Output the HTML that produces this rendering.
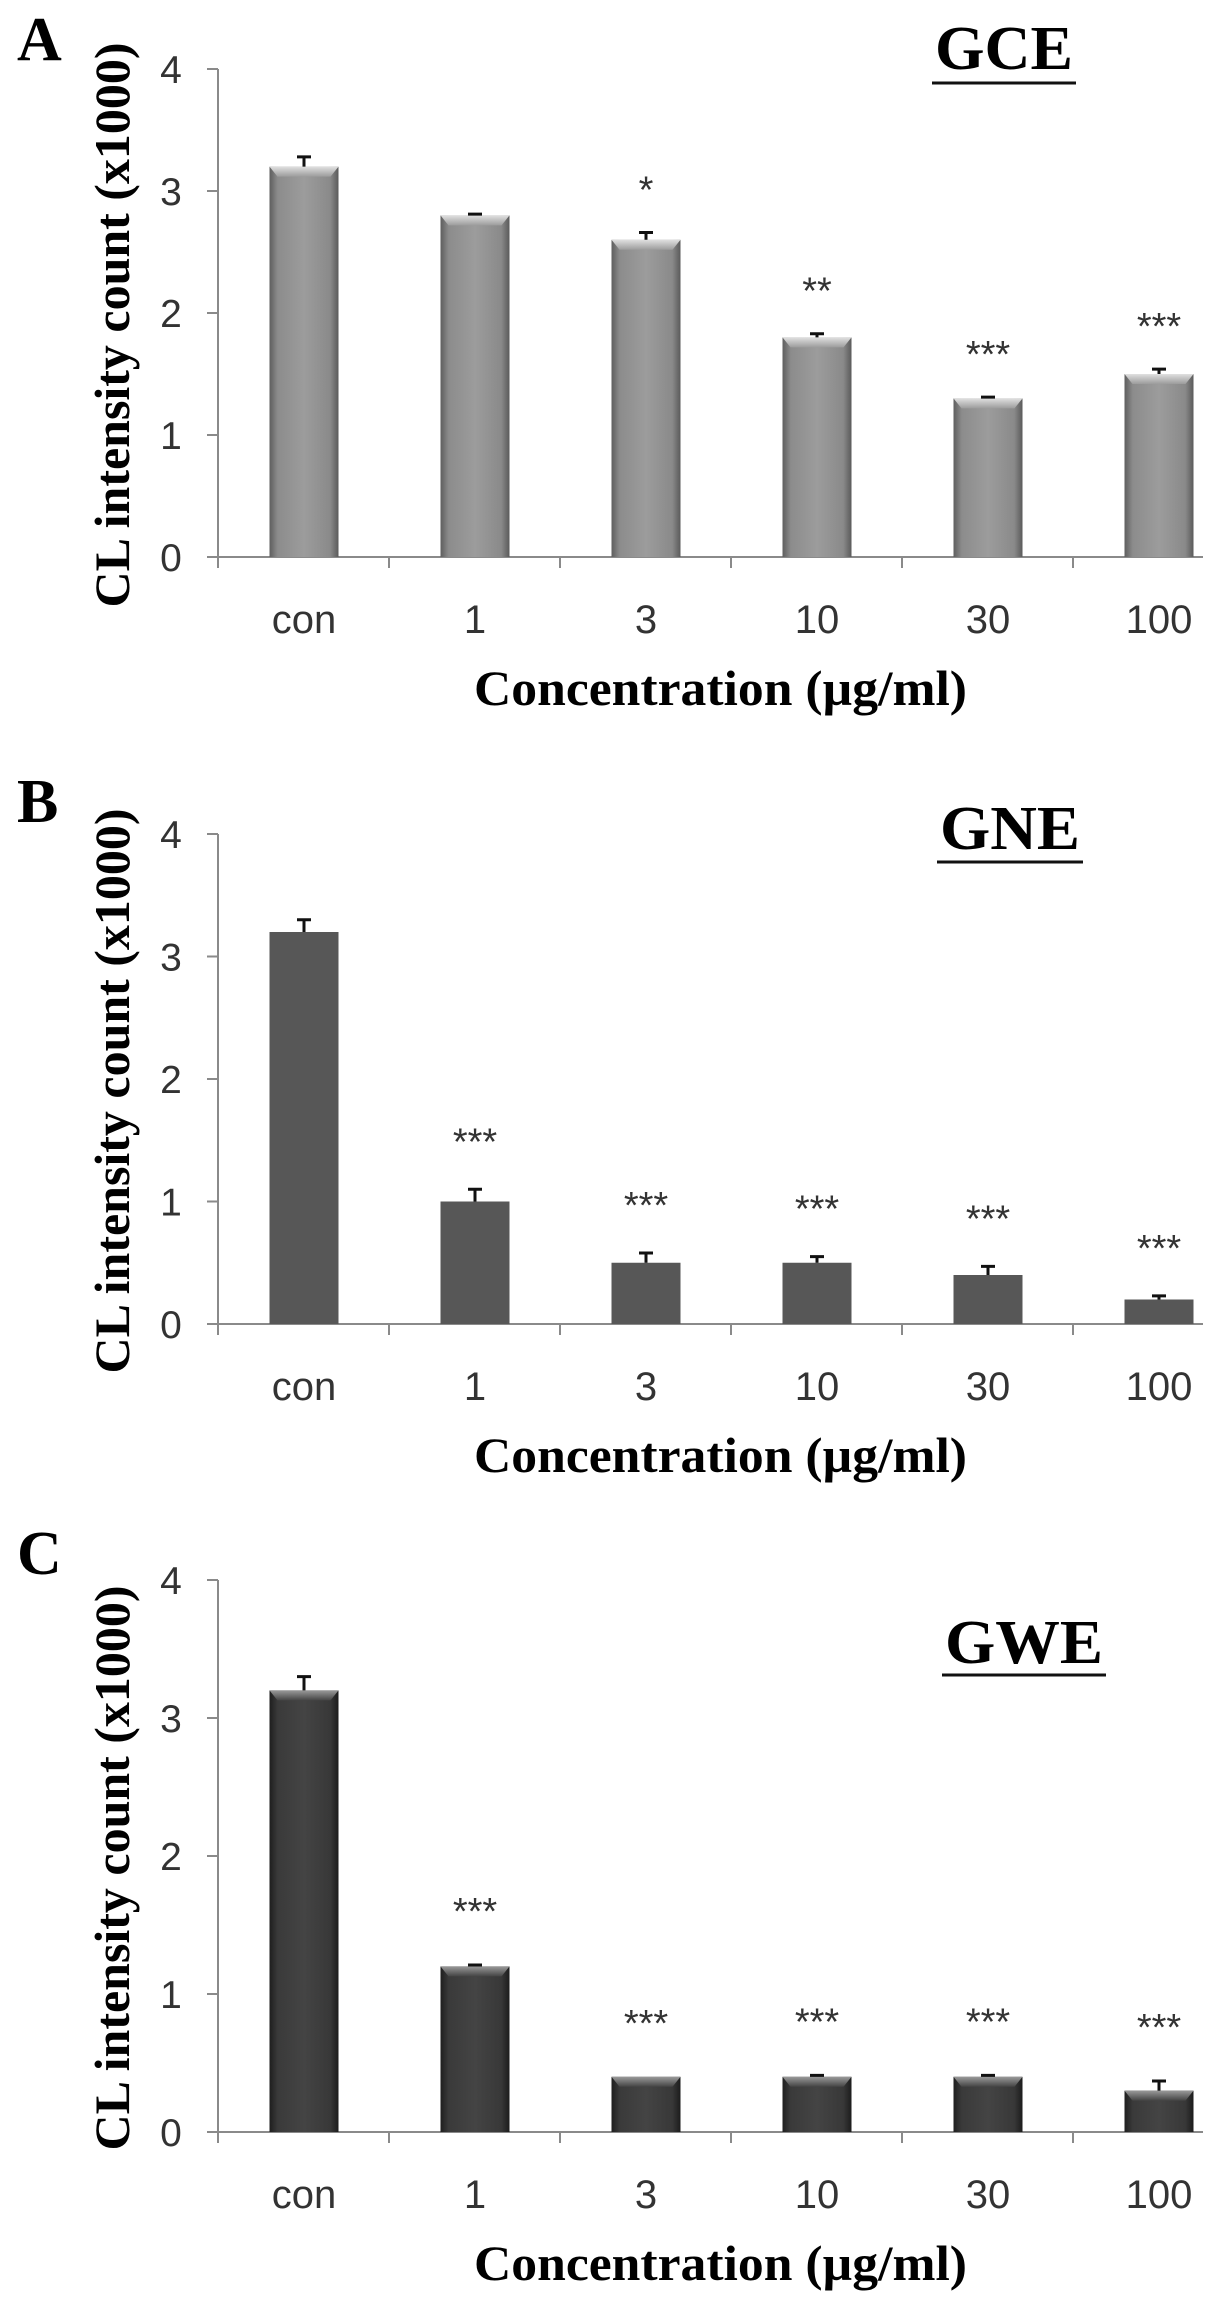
<!DOCTYPE html>
<html><head><meta charset="utf-8"><style>
html,body{margin:0;padding:0;background:#fff;}
svg{display:block;}
</style></head><body>
<svg id="fig" width="1225" height="2303" viewBox="0 0 1225 2303" xmlns="http://www.w3.org/2000/svg">
<defs>
<linearGradient id="gA" x1="0" x2="1" y1="0" y2="0">
<stop offset="0" stop-color="#5e5e5e"/><stop offset="0.12" stop-color="#8c8c8c"/><stop offset="0.5" stop-color="#9c9c9c"/><stop offset="0.88" stop-color="#8a8a8a"/><stop offset="1" stop-color="#5a5a5a"/>
</linearGradient>
<linearGradient id="gC" x1="0" x2="1" y1="0" y2="0">
<stop offset="0" stop-color="#1e1e1e"/><stop offset="0.12" stop-color="#3a3a3a"/><stop offset="0.5" stop-color="#444"/><stop offset="0.88" stop-color="#383838"/><stop offset="1" stop-color="#1c1c1c"/>
</linearGradient>
<linearGradient id="tA" x1="0" x2="0" y1="0" y2="1"><stop offset="0" stop-color="#e0e0e0"/><stop offset="1" stop-color="#9c9c9c"/></linearGradient>
<linearGradient id="tC" x1="0" x2="0" y1="0" y2="1"><stop offset="0" stop-color="#9a9a9a"/><stop offset="1" stop-color="#444"/></linearGradient>
</defs>
</svg>
<script>
const categories = ['con','1','3','10','30','100'];
const yTicks = [0,1,2,3,4];
const valuesA = [3.2,2.8,2.6,1.8,1.3,1.5];
const errorsA = [0.08,0.01,0.06,0.03,0.01,0.04];
const starsA = ['','','*','**','***','***'];
const valuesB = [3.2,1.0,0.5,0.5,0.4,0.2];
const errorsB = [0.1,0.1,0.08,0.05,0.07,0.03];
const starsB = ['','***','***','***','***','***'];
const valuesC = [3.2,1.2,0.4,0.4,0.4,0.3];
const errorsC = [0.1,0.01,0.0,0.01,0.01,0.07];
const starsC = ['','***','***','***','***','***'];

const NS='http://www.w3.org/2000/svg';
const svg=document.getElementById('fig');
function mk(tag,attrs,parent,txt){const e=document.createElementNS(NS,tag);for(const k in attrs)e.setAttribute(k,attrs[k]);if(txt!==undefined)e.textContent=txt;(parent||svg).appendChild(e);return e;}

const panels=[
 {key:'a',letter:'A',letterY:60,title:'GCE',tx:935,tw:138,ty:69,ul:83,zero:557,unit:122,vals:valuesA,errs:errorsA,stars:starsA,fill:'url(#gA)',top:'url(#tA)',starOff:52},
 {key:'b',letter:'B',letterY:822,title:'GNE',tx:940,tw:140,ty:849,ul:862,zero:1324,unit:122.5,vals:valuesB,errs:errorsB,stars:starsB,fill:'#575757',top:null,starOff:57},
 {key:'c',letter:'C',letterY:1574,title:'GWE',tx:945,tw:158,ty:1663,ul:1675,zero:2132,unit:138,vals:valuesC,errs:errorsC,stars:starsC,fill:'url(#gC)',top:'url(#tC)',starOff:63}
];
const AX=218, CW=171, BW=69, XEND=1203;

panels.forEach(p=>{
 const g=mk('g',{});
 
 
 const y=v=>p.zero-v*p.unit;
 const xc=i=>AX+i*CW+86;
 const L=mk('text',{x:17,y:p.letterY,'font-family':'Liberation Serif, serif','font-weight':'bold','font-size':62,fill:'#000'},g,p.letter);
 
 
 const T=mk('text',{x:p.tx,y:p.ty,'font-family':'Liberation Serif, serif','font-weight':'bold','font-size':62,fill:'#000',textLength:p.tw,lengthAdjust:'spacingAndGlyphs'},g,p.title);
 
 
 const U=mk('rect',{x:p.tx-3,y:p.ul-1.5,width:p.tw+6,height:3,fill:'#111'},g);
 
 
 const ya=mk('line',{x1:AX,y1:y(4),x2:AX,y2:p.zero,stroke:'#8a8a8a','stroke-width':2},g);
 
 
 yTicks.forEach(t=>{
  const tk=mk('line',{x1:AX-11,y1:y(t),x2:AX,y2:y(t),stroke:'#8a8a8a','stroke-width':2},g);
  
  
  const tl=mk('text',{x:171,y:y(t)+14,'text-anchor':'middle','font-family':'Liberation Sans, sans-serif','font-size':39,fill:'#333'},g,String(t));
  
  
 });
 const xa=mk('line',{x1:AX-11,y1:p.zero,x2:XEND,y2:p.zero,stroke:'#8a8a8a','stroke-width':2},g);
 
 
 for(let i=0;i<=categories.length;i++){
  const bx=AX+i*CW; if(bx>XEND) continue;
  const tk=mk('line',{x1:bx,y1:p.zero,x2:bx,y2:p.zero+11,stroke:'#8a8a8a','stroke-width':2},g);
  
  
 }
 categories.forEach((c,i)=>{
  const cl=mk('text',{x:xc(i),y:p.zero+76,'text-anchor':'middle','font-family':'Liberation Sans, sans-serif','font-size':40,fill:'#333'},g,c);
  
  
  const v=p.vals[i], e=p.errs[i];
  const bl=xc(i)-BW/2;
  const b=mk('rect',{x:bl,y:y(v),width:BW,height:v*p.unit,fill:p.fill},g);
  
  
  if(p.top){
   const hl=mk('polygon',{points:`${bl},${y(v)} ${bl+BW},${y(v)} ${bl+BW-8},${y(v)+10} ${bl+8},${y(v)+10}`,fill:p.top},g);
   
   
  }
  if(e>0){
   const eb=mk('path',{d:`M${xc(i)},${y(v)} V${y(v+e)} M${xc(i)-7},${y(v+e)} H${xc(i)+7}`,stroke:'#111','stroke-width':3,fill:'none'},g);
   
   
  }
  if(p.stars[i]){
   const st=mk('text',{x:xc(i),y:y(v+e)-p.starOff+22,'text-anchor':'middle','font-family':'Liberation Sans, sans-serif','font-size':38,fill:'#333'},g,p.stars[i]);
   
   
  }
 });
 const midY=(y(4)+p.zero)/2+12;
 const yt=mk('text',{x:0,y:0,transform:`translate(129,${midY}) rotate(-90)`,'text-anchor':'middle','font-family':'Liberation Serif, serif','font-weight':'bold','font-size':50,fill:'#000',textLength:565,lengthAdjust:'spacingAndGlyphs'},g,'CL intensity count (x1000)');
 
 
 const xt=mk('text',{x:474,y:p.zero+148,'font-family':'Liberation Serif, serif','font-weight':'bold','font-size':50,fill:'#000',textLength:493,lengthAdjust:'spacingAndGlyphs'},g,'Concentration (µg/ml)');
 
 
});
</script>
</body></html>
